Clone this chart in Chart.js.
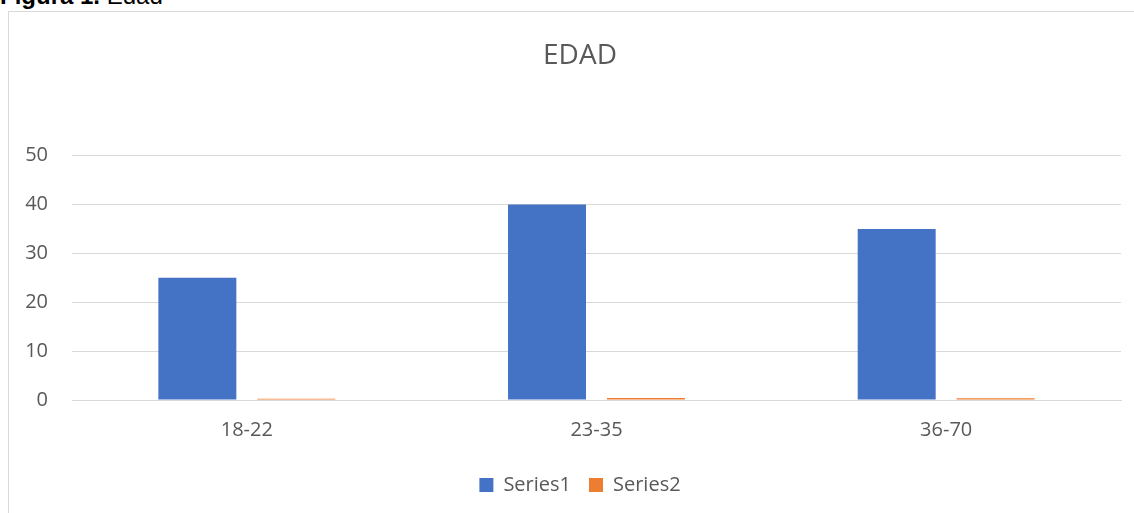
<!DOCTYPE html>
<html>
<head>
<meta charset="utf-8">
<script src="https://cdn.jsdelivr.net/npm/chart.js@4/dist/chart.umd.min.js"></script>
<style>
    html, body { margin: 0; padding: 0; background: #fff; overflow: hidden; }
    body { width: 1134px; height: 513px; position: relative; }
    .caption {
        position: absolute; left: 0; top: -16px;
        font: 24px "Liberation Sans", Arial, sans-serif; color: #000;
        line-height: 24px; white-space: nowrap;
    }
    .frame {
        position: absolute; left: 8px; top: 11px; width: 1160px; height: 520px;
        border-left: 1px solid #d9d9d9; border-top: 1px solid #d9d9d9;
    }
    #chart { position: absolute; left: 0; top: 0; }
</style>
</head>
<body>
<div class="caption"><b>Figura 1.</b> Edad</div>
<div class="frame">
    <div style="position:absolute;left:0;top:0;width:1142px;height:501px;">
        <canvas id="chart"></canvas>
    </div>
</div>
<script>
// Age groups and series
const categories = ['18-22', '23-35', '36-70'];
const series1 = [25, 40, 35];
const series2 = [0.25, 0.4, 0.35];
const yTicks = [0, 10, 20, 30, 40, 50];

const textColor = '#595959';
const gridColor = '#d9d9d9';
const font = '"Open Sans", "Noto Sans", sans-serif';

const ctx = document.getElementById('chart').getContext('2d');
new Chart(ctx, {
    type: 'bar',
    data: {
        labels: categories,
        datasets: [
            {
                label: 'Series1',
                data: series1,
                backgroundColor: '#4472c4',
                categoryPercentage: 0.566,
                barPercentage: 0.788,
            },
            {
                label: 'Series2',
                data: series2,
                backgroundColor: '#ed7d31',
                categoryPercentage: 0.566,
                barPercentage: 0.788,
            }
        ]
    },
    options: {
        responsive: true,
        maintainAspectRatio: false,
        animation: false,
        layout: { padding: { left: 0, right: 0, top: 0, bottom: 8 } },
        plugins: {
            title: {
                display: true,
                text: 'EDAD',
                color: textColor,
                font: { family: font, size: 28, weight: 'normal' },
                padding: { top: 27, bottom: 83 }
            },
            legend: {
                position: 'bottom',
                labels: {
                    color: textColor,
                    font: { family: font, size: 20 },
                    boxWidth: 14,
                    boxHeight: 14,
                    padding: 18
                }
            },
            tooltip: { enabled: false }
        },
        scales: {
            x: {
                grid: { display: false, drawTicks: false },
                border: { display: true, color: gridColor, width: 1 },
                ticks: { color: textColor, font: { family: font, size: 20 }, padding: 18 },
                afterFit: (scale) => { scale.height = 57; }
            },
            y: {
                min: 0,
                max: 50,
                afterBuildTicks: (scale) => { scale.ticks = yTicks.map(v => ({ value: v })); },
                grid: { color: gridColor, drawTicks: false },
                border: { display: false },
                ticks: { color: textColor, font: { family: font, size: 20 }, padding: 24 },
                afterFit: (scale) => { scale.width = 63; }
            },
            // empty right-hand margin so the plot stops where the reference does
            spacer: {
                type: 'linear',
                position: 'right',
                min: 0,
                max: 50,
                grid: { display: false },
                border: { display: false },
                ticks: { display: false },
                afterFit: (scale) => { scale.width = 30; }
            }
        }
    }
});
</script>
</body>
</html>
